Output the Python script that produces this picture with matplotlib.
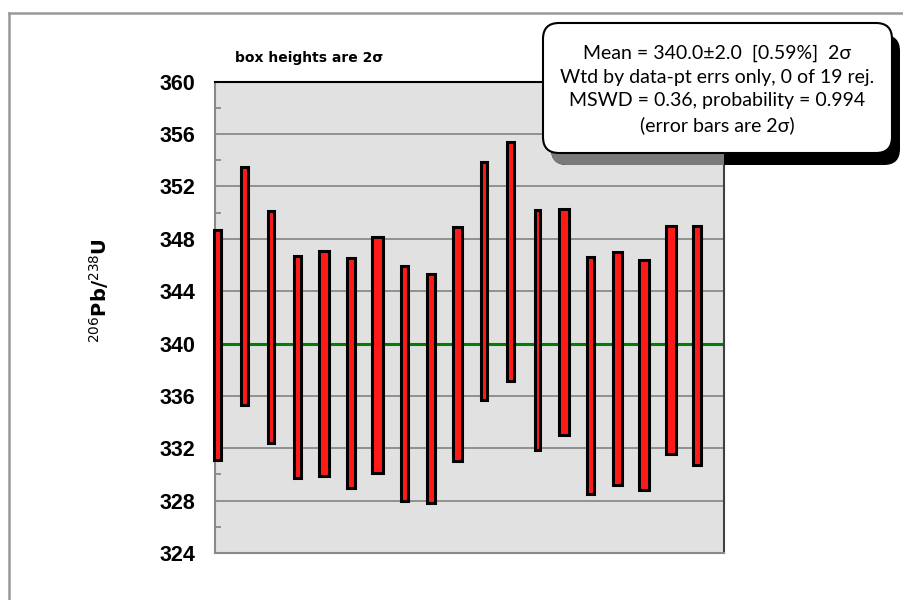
import numpy as np
import matplotlib.pyplot as plt
from matplotlib.patches import FancyBboxPatch
from matplotlib.lines import Line2D
from matplotlib.transforms import IdentityTransform

# 206Pb/238U ages of the 19 spots with their 2-sigma errors
ages = [339.9, 344.4, 341.25, 338.2, 338.5, 337.75, 339.1, 336.95, 336.55, 339.95,
        344.8, 346.25, 341.05, 341.65, 337.55, 338.1, 337.6, 340.3, 339.85]
err2s = [8.8, 9.1, 8.85, 8.5, 8.6, 8.75, 9.0, 8.95, 8.75, 8.95,
         9.1, 9.15, 9.15, 8.65, 9.05, 8.9, 8.8, 8.7, 9.15]
wtd_mean = 340.0
y_ticks = [324, 328, 332, 336, 340, 344, 348, 352, 356, 360]
stats_lines = ["Mean = 340.0\u00b12.0  [0.59%]  2\u03c3",
               "Wtd by data-pt errs only, 0 of 19 rej.",
               "MSWD = 0.36, probability = 0.994",
               "(error bars are 2\u03c3)"]

# box widths (drawing style, in spot-index units)
box_widths = [0.23, 0.27, 0.23, 0.23, 0.35, 0.31, 0.38, 0.27, 0.31, 0.31,
              0.23, 0.27, 0.20, 0.35, 0.27, 0.35, 0.35, 0.38, 0.31]

ages = np.array(ages)
err2s = np.array(err2s)
spots = np.arange(1, len(ages) + 1)

W, H = 904, 600
fig = plt.figure(figsize=(W / 100, H / 100), dpi=100)
ax = fig.add_axes([215 / W, 1 - 553 / H, (724 - 215) / W, (553 - 81.7) / H])
ax.set_facecolor('#e1e1e1')

bars = ax.bar(spots, 2 * err2s, bottom=ages - err2s, width=box_widths,
              color='#ff1a1a', edgecolor='black', linewidth=2.2, zorder=3)
for b in bars:
    b.set_clip_on(False)
ax.axhline(wtd_mean, xmin=0.012, xmax=0.996, color='#008000', lw=2.2, zorder=2)

ax.set_xlim(0.906, 20.0)
ax.set_ylim(y_ticks[0], y_ticks[-1])
ax.set_xticks([])
ax.set_yticks(y_ticks)
ax.set_yticks(np.arange(326, 360, 4), minor=True)
ax.grid(axis='y', color='#8a8a8a', lw=1.3)
ax.set_axisbelow(True)
ax.tick_params(axis='y', which='major', length=0, pad=14)
ax.tick_params(axis='y', which='minor', direction='in', length=4,
               color='#8a8a8a', width=1.3)
for lab in ax.get_yticklabels():
    lab.set_fontfamily(['Liberation Sans', 'DejaVu Sans'])
    lab.set_fontweight('bold')
    lab.set_fontsize(15.5)

ax.spines['left'].set_color('#8a8a8a')
ax.spines['bottom'].set_color('#8a8a8a')
ax.spines['right'].set_color('#404040')
ax.spines['top'].set_color('black')
for s in ax.spines.values():
    s.set_linewidth(1.5)

fig.text(99 / W, 1 - 291 / H, r'$^{206}$Pb/$^{238}$U', rotation=90,
         ha='center', va='center', fontsize=14, fontweight='bold')
fig.text(235 / W, 1 - 58 / H, 'box heights are 2\u03c3', ha='left', va='center',
         fontsize=10, fontweight='bold')

# outer frame, top and left edges only
px = IdentityTransform()
fig.add_artist(Line2D([9, W], [587, 587], transform=px, color='#999999', lw=1.8))
fig.add_artist(Line2D([9, 9], [0, 587], transform=px, color='#999999', lw=1.8))

# stats box with drop shadow
bx, by, bw, bh = 543, 447, 349, 130
shadow = FancyBboxPatch((bx + 8, by - 12), bw, bh, boxstyle='round,pad=0,rounding_size=16',
                        transform=px, facecolor='black', edgecolor='none', zorder=5)
fig.add_artist(shadow)
shadow_in = FancyBboxPatch((bx + 8, by - 12), bw, bh, boxstyle='round,pad=0,rounding_size=16',
                           transform=px, facecolor='#7a7a7a', edgecolor='none', zorder=6)
fig.add_artist(shadow_in)
shadow_in.set_clip_box(ax.bbox)
box = FancyBboxPatch((bx, by), bw, bh, boxstyle='round,pad=0,rounding_size=16',
                     transform=px, facecolor='white', edgecolor='black', lw=1.5, zorder=7)
fig.add_artist(box)
fig.text((bx + bw / 2) / W, 1 - 89.5 / H, '\n'.join(stats_lines), ha='center', va='center',
         fontsize=14, family=['Lato', 'DejaVu Sans'], linespacing=1.48, zorder=8)

fig.savefig('out.png', dpi=100)
